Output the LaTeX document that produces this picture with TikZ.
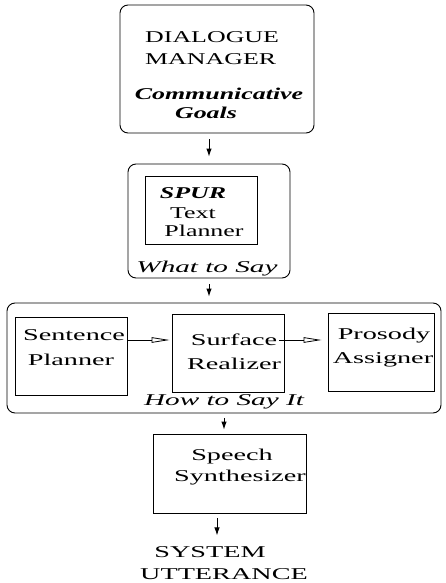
\documentclass[tikz,border=0pt]{standalone}
\usepackage{fontspec}
\setmainfont{Liberation Serif}
\newfontfamily\fontA[FakeStretch=1.57]{Liberation Serif}
\newfontfamily\fontB[FakeStretch=1.71]{Liberation Serif}
\newfontfamily\fontI[FakeStretch=1.77]{Liberation Serif}
\usetikzlibrary{arrows.meta}
\begin{document}
\begin{tikzpicture}[x=1pt,y=-1pt,
  box/.style={draw,line width=0.9pt,inner sep=0pt,minimum width=#1},
  rbox/.style={box=#1,rounded corners=8pt},
  ta/.style={inner sep=0pt,anchor=base,font=\fontsize{16.5}{19}\fontA},
  tb/.style={inner sep=0pt,anchor=base,font=\fontsize{16.5}{19}\fontB},
  ti/.style={inner sep=0pt,anchor=base,font=\fontsize{16.5}{19}\fontI\itshape},
  tbi/.style={ta,font=\fontsize{16.5}{19}\fontA\bfseries\itshape},
  arr/.style={line width=0.9pt,-{Latex[length=8pt,width=5.5pt]}},
  oarr/.style={line width=0.8pt,-{Triangle[open,length=18pt,width=5.5pt]}}]
\useasboundingbox (0,0) rectangle (446,583);
% boxes
\node[rbox=194pt,minimum height=128pt] (dm) at (217,69) {};
\node[rbox=162pt,minimum height=114pt] (wts) at (209,221) {};
\node[box=112pt,minimum height=68pt] (spur) at (201,210) {};
\node[rbox=434pt,minimum height=110pt] (how) at (224,358) {};
\node[box=112pt,minimum height=78pt] (sp) at (71,356) {};
\node[box=112pt,minimum height=78pt] (sr) at (228,353) {};
\node[box=106pt,minimum height=78pt] (pa) at (381,352) {};
\node[box=153pt,minimum height=79pt] (ss) at (229.5,473.5) {};
% texts
\node[ta,anchor=base west] (t1) at (145,43) {DIALOGUE};
\node[ta,anchor=base west] (t2) at (145,65) {MANAGER};
\node[tbi] (t3) at (219,100) {Communicative};
\node[tbi] (t4) at (206,118) {Goals};
\node[tbi] (t5) at (193,198) {SPUR};
\node[ta] (t6) at (193,218) {Text};
\node[ta] (t7) at (204,236) {Planner};
\node[ti] (t8) at (207,272) {What to Say};
\node[tb] (t9) at (74,340) {Sentence};
\node[tb] (t10) at (71,365) {Planner};
\node[tb] (t11) at (234,345) {Surface};
\node[tb] (t12) at (234,369) {Realizer};
\node[tb] (t13) at (384,339) {Prosody};
\node[tb] (t14) at (383,363) {Assigner};
\node[ti] (t15) at (224,405) {How to Say It};
\node[tb] (t16) at (232,460) {Speech};
\node[tb] (t17) at (240,481) {Synthesizer};
\node[tb] (t18) at (210,557) {SYSTEM};
\node[tb] (t19) at (224,579) {UTTERANCE};
% connectors
\draw[arr,shorten <=6pt,shorten >=7pt] (wts.north |- dm.south) -- (wts.north);
\draw[arr,shorten <=6pt,shorten >=6pt] (wts.south) -- (wts.south |- how.north);
\draw[arr,shorten <=5pt,shorten >=4pt] (how.south) -- (how.south |- ss.north);
\draw[arr] ([xshift=-12.5pt,yshift=-5pt]ss.south) -- ([xshift=-12.5pt,yshift=-22pt]ss.south);
\draw[oarr,shorten >=2pt] ([yshift=16pt]sp.east) -- ([yshift=13pt]sr.west);
\draw[oarr,shorten >=6pt] ([xshift=2pt,yshift=5pt]t11.base east) -- ([yshift=12pt]pa.west);
\end{tikzpicture}
\end{document}
